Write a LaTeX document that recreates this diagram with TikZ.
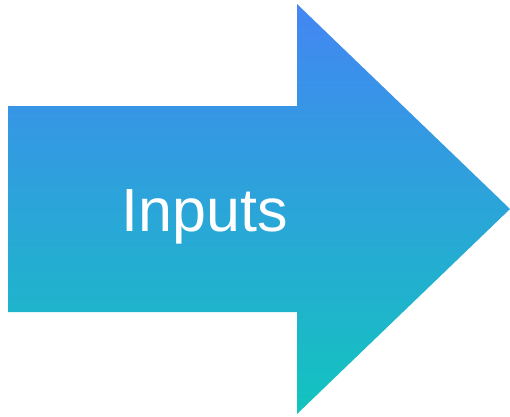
\documentclass[tikz,border=0pt]{standalone}
\usepackage{fontspec}
\setmainfont{Liberation Sans}
\usepackage{xcolor}
\definecolor{arrowtop}{HTML}{4386F3}
\definecolor{arrowbottom}{HTML}{12C4BE}
\tikzset{
	bigarrow/.style={top color=arrowtop, bottom color=arrowbottom, draw=none},
	arrowtext/.style={text=white, font=\fontsize{61}{70}\selectfont, inner sep=0pt, anchor=base}
}
\begin{document}
\begin{tikzpicture}[x=1pt, y=-1pt]
	\useasboundingbox (0,0) rectangle (510,416);
	\shade[bigarrow] (8,106) -- (297,106) -- (297,4) -- (510,209) -- (297,414) -- (297,312) -- (8,312) -- cycle;
	\node[arrowtext] (inputs) at (205,231) {Inputs};
\end{tikzpicture}
\end{document}
